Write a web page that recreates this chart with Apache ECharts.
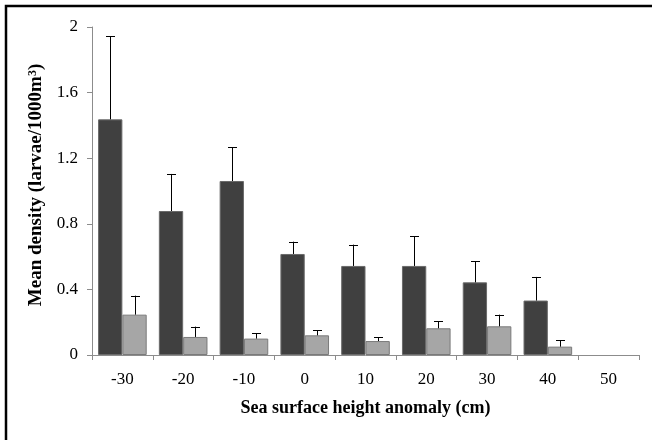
<!DOCTYPE html>
<html>
<head>
<meta charset="utf-8">
<script src="https://cdn.jsdelivr.net/npm/echarts@6/dist/echarts.min.js"></script>
<style>html,body{margin:0;padding:0;background:#fff;}#c{width:652px;height:440px;}</style>
</head>
<body>
<div id="c"></div>
<script>
var categories = ['-30', '-20', '-10', '0', '10', '20', '30', '40', '50'];
var darkMeans = [1.437, 0.878, 1.061, 0.616, 0.543, 0.543, 0.443, 0.332, null];
var darkUpper = [1.943, 1.104, 1.266, 0.691, 0.673, 0.724, 0.573, 0.476, null];
var lightMeans = [0.246, 0.110, 0.100, 0.120, 0.085, 0.163, 0.175, 0.051, null];
var lightUpper = [0.362, 0.173, 0.132, 0.151, 0.108, 0.205, 0.246, 0.091, null];
var yTicks = [0, 0.4, 0.8, 1.2, 1.6, 2];

var FONT = '"Liberation Serif", "Times New Roman", serif';

function errData(means, upper) {
  var out = [];
  for (var i = 0; i < categories.length; i++) {
    if (means[i] != null) out.push([i, means[i], upper[i]]);
  }
  return out;
}

function errRender(side) {
  return function (params, api) {
    var idx = api.value(0);
    var base = api.coord([idx, api.value(1)]);
    var top = api.coord([idx, api.value(2)]);
    var cw = api.size([1, 0])[0];
    var x = Math.round(base[0] + side * 0.2 * cw) + 0.5;
    var cap = 4.5;
    return {
      type: 'group',
      children: [
        { type: 'line', shape: { x1: x, y1: base[1], x2: x, y2: top[1] }, style: { stroke: '#000', lineWidth: 1 } },
        { type: 'line', shape: { x1: x - cap, y1: Math.round(top[1]) + 0.5, x2: x + cap, y2: Math.round(top[1]) + 0.5 }, style: { stroke: '#000', lineWidth: 1 } }
      ]
    };
  };
}

var chart = echarts.init(document.getElementById('c'), null, { renderer: 'canvas' });
chart.setOption({
  animation: false,
  backgroundColor: '#fff',
  graphic: [{
    type: 'rect',
    shape: { x: 6, y: 6, width: 800, height: 600 },
    style: { fill: 'none', stroke: '#000', lineWidth: 2.5 },
    silent: true
  }],
  grid: { left: 92, right: 13, top: 27, bottom: 85, containLabel: false },
  xAxis: {
    type: 'category',
    data: categories,
    boundaryGap: true,
    axisLine: { lineStyle: { color: '#8c8c8c', width: 1 } },
    axisTick: { show: true, length: 5, alignWithLabel: false, lineStyle: { color: '#8c8c8c' } },
    axisLabel: { color: '#000', fontFamily: FONT, fontSize: 17, margin: 16 },
    name: 'Sea surface height anomaly (cm)',
    nameLocation: 'middle',
    nameGap: 44,
    nameTextStyle: { color: '#000', fontFamily: FONT, fontSize: 18, fontWeight: 'bold' }
  },
  yAxis: {
    type: 'value',
    min: 0,
    max: 2,
    interval: 0.4,
    splitLine: { show: false },
    axisLine: { show: true, lineStyle: { color: '#8c8c8c', width: 1 } },
    axisTick: { show: true, length: 5, lineStyle: { color: '#8c8c8c' } },
    axisLabel: {
      color: '#000', fontFamily: FONT, fontSize: 17, margin: 14,
      formatter: function (v) {
        for (var i = 0; i < yTicks.length; i++) {
          if (Math.abs(yTicks[i] - v) < 1e-9) return String(yTicks[i]);
        }
        return '';
      }
    },
    name: 'Mean density (larvae/1000m{sup|3})',
    nameLocation: 'middle',
    nameGap: 45,
    nameTextStyle: {
      color: '#000', fontFamily: FONT, fontSize: 19, fontWeight: 'bold',
      padding: [0, 0, 0, 12],
      rich: { sup: { fontSize: 12, fontFamily: FONT, fontWeight: 'bold', verticalAlign: 'top', padding: [0, 0, 7, 0] } }
    }
  },
  series: [
    {
      type: 'bar',
      data: darkMeans,
      barWidth: '40%',
      barGap: '0%',
      itemStyle: { color: '#404040', borderColor: '#6a6a6a', borderWidth: 1 },
      z: 2
    },
    {
      type: 'bar',
      data: lightMeans,
      barWidth: '40%',
      barGap: '0%',
      itemStyle: { color: '#a6a6a6', borderColor: '#7a7a7a', borderWidth: 1 },
      z: 2
    },
    {
      type: 'custom',
      renderItem: errRender(-1),
      data: errData(darkMeans, darkUpper),
      encode: { x: 0, y: [1, 2] },
      z: 3
    },
    {
      type: 'custom',
      renderItem: errRender(1),
      data: errData(lightMeans, lightUpper),
      encode: { x: 0, y: [1, 2] },
      z: 3
    }
  ]
});
</script>
</body>
</html>
